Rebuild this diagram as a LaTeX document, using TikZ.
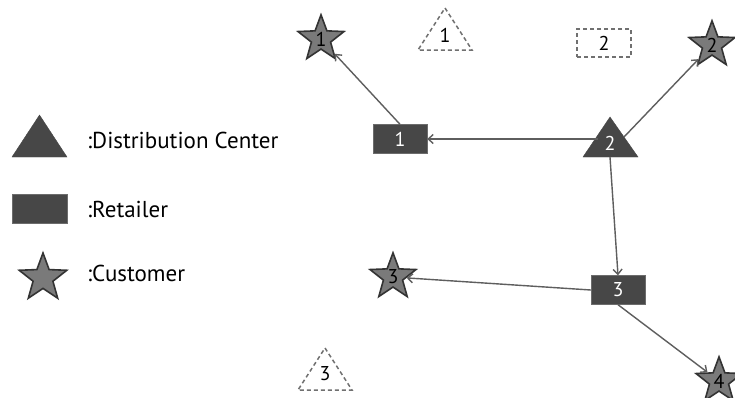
\documentclass[tikz,border=0pt]{standalone}
\usepackage{fontspec}
\setmainfont{PT Sans}
\usetikzlibrary{shapes.geometric,arrows.meta}
\definecolor{dk}{HTML}{474747}
\definecolor{stf}{HTML}{7A7A7A}
\definecolor{ln}{HTML}{5E5E5E}
\definecolor{dsh}{HTML}{707070}
\begin{document}
\begin{tikzpicture}[x=1pt,y=-1pt,
 retail/.style={rectangle,fill=dk,draw=dk!80,minimum width=54pt,minimum height=29pt,inner sep=0pt,text=white,font=\fontsize{20}{20}\selectfont},
 cust/.style={star,star points=5,star point ratio=2.4,fill=stf,draw=black!80,line width=1.6pt,minimum size=46pt,inner sep=0pt,font=\fontsize{20}{20}\selectfont},
 lbl/.style={inner sep=0pt,font=\fontsize{20}{20}\selectfont},
 dctri/.style={fill=dk,draw=dk},
 deadtri/.style={draw=dsh,line width=1.5pt,dash pattern=on 4pt off 3pt},
 link/.style={draw=ln,line width=1.4pt,-{Straight Barb[length=5pt,width=9pt]}},
 legend/.style={anchor=west,inner sep=0pt,font=\fontsize{23}{23}\selectfont}]
\useasboundingbox[fill=white] (0,0) rectangle (735,397);

% legend
\draw[dctri] (39.5,115) -- (67,157) -- (12,157) -- cycle;
\node[legend] (lg1) at (87,140) {:Distribution Center};
\node[retail,minimum width=55pt] (lgr) at (39.5,208.5) {};
\node[legend] (lg2) at (87,209) {:Retailer};
\node[cust,minimum size=50pt] (lgs) at (43,278) {};
\node[legend] (lg3) at (87,273) {:Customer};

% unused facilities (dashed)
\draw[deadtri] (445,8) -- (472,50) -- (418,50) -- cycle;
\node[lbl] (d1) at (445,35) {1};
\draw[deadtri] (325,348) -- (352,390) -- (298,390) -- cycle;
\node[lbl] (d3) at (325,374) {3};
\node[rectangle,draw=dsh,line width=1.5pt,dash pattern=on 4pt off 3pt,minimum width=54pt,minimum height=28pt,inner sep=0pt,font=\fontsize{20}{20}\selectfont] (dr2) at (604,43) {2};

% distribution center 2
\draw[dctri] (610,117) -- (638,157) -- (583,157) -- cycle;
\node[lbl,text=white] (dc2) at (610,143) {2};
\coordinate (dcL) at (598,139);
\coordinate (dcR) at (624,137);
\coordinate (dcB) at (610,157);

% retailers
\node[retail] (r1) at (400,139) {1};
\node[retail] (r3) at (618,290) {3};

% customers
\node[cust] (c1) at (321,39) {1};
\node[cust] (c2) at (712,45) {2};
\node[cust] (c3) at (393,277) {3};
\node[cust] (c4) at (719,381) {4};

% links
\draw[link] (r1.north) -- (c1);
\draw[link] (dcL) -- (r1.east);
\draw[link] (dcR) -- (c2);
\draw[link] (dcB) -- (r3.north);
\draw[link] (r3.west) -- (c3);
\draw[link] (r3.south) -- (c4);
\end{tikzpicture}
\end{document}
